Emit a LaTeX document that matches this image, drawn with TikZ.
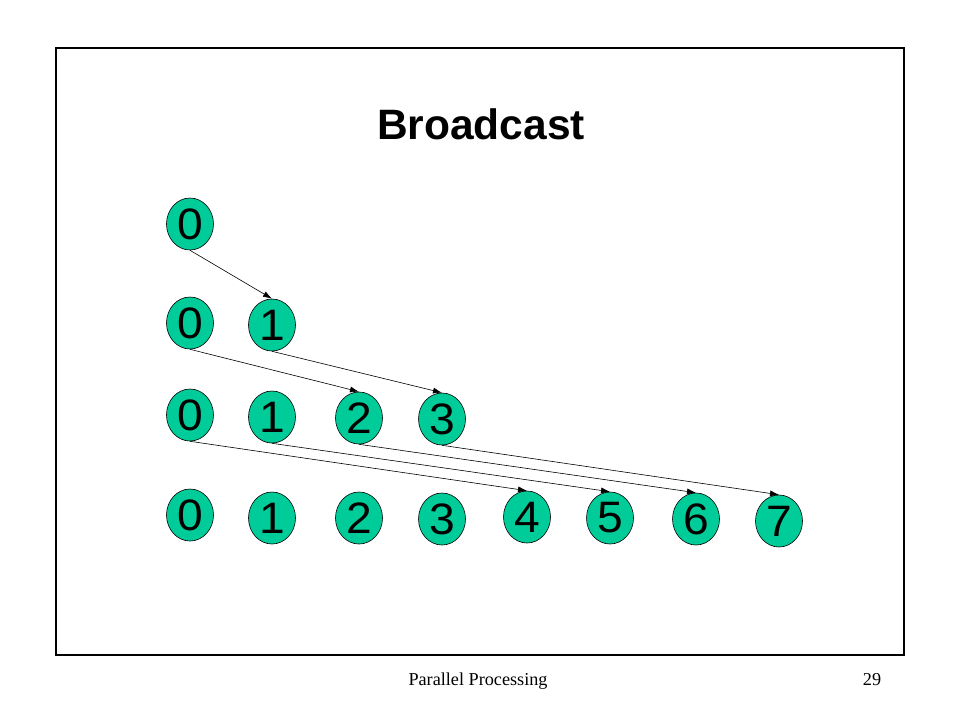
\documentclass[tikz,border=0pt]{standalone}
\usepackage{fontspec}
\setmainfont{Liberation Serif}
\newfontfamily\arialfont{Liberation Sans}
\newfontfamily\digitfont{Liberation Sans}[FakeStretch=1.05]
\usetikzlibrary{shapes.geometric,arrows.meta}
\definecolor{procgreen}{RGB}{0,204,153}
\tikzset{
	proc/.style={ellipse, draw=black, line width=0.6pt, fill=procgreen, minimum width=47pt, minimum height=52pt, inner sep=0pt, font=\digitfont\fontsize{44}{44}\selectfont},
	send/.style={-{Latex[length=9pt,width=6pt]}, line width=0.6pt}
}
\begin{document}
\begin{tikzpicture}[x=1pt, y=-1pt]
		% Page and frame
		\useasboundingbox (0,0) rectangle (960,720);
		\draw[line width=2pt] (56,48) rectangle (904,655);
		
		% Title
		\node[anchor=base, font=\arialfont\bfseries\fontsize{42.5}{42.5}\selectfont] (title) at (481,139) {Broadcast};
		
		% Step 0
		\node[proc] (a0) at (190,224) {0};
		
		% Step 1
		\node[proc] (b0) at (190,323) {0};
		\node[proc] (b1) at (272,325) {1};
		
		% Step 2
		\node[proc] (c0) at (190,415) {0};
		\node[proc] (c1) at (272,417) {1};
		\node[proc] (c2) at (359,418) {2};
		\node[proc] (c3) at (442,419) {3};
		
		% Step 3
		\foreach \i/\x/\y in {0/190/515, 1/272/518, 2/359/518, 3/442/519, 4/527/517, 5/610/518, 6/696/519, 7/779/521}
			\node[proc] (d\i) at (\x,\y) {\i};
		
		% Messages
		\draw[send] (a0.south) -- (b1.north);
		\draw[send] (b0.south) -- (c2.north);
		\draw[send] (b1.south) -- (c3.north);
		\draw[send] (c0.south) -- (d4.north);
		\draw[send] (c1.south) -- (d5.north);
		\draw[send] (c2.south) -- (d6.north);
		\draw[send] (c3.south) -- (d7.north);
		
		% Footer
		\node[anchor=base, font=\fontsize{18.2}{18.2}\selectfont] (footer) at (478,685) {Parallel Processing};
		\node[anchor=base, font=\fontsize{18.2}{18.2}\selectfont] (page) at (872,685) {29};
	\end{tikzpicture}
\end{document}
